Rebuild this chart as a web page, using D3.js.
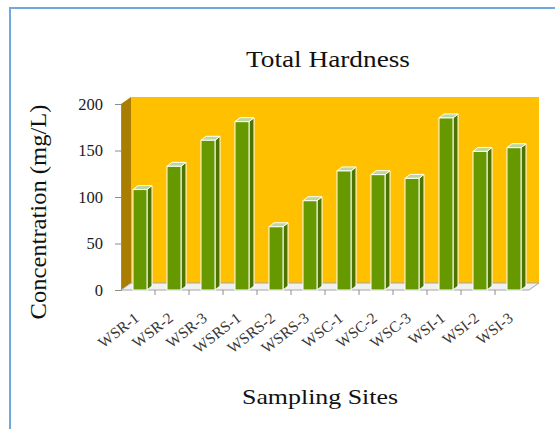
<!DOCTYPE html>
<html>
<head>
<meta charset="utf-8">
<script src="https://cdn.jsdelivr.net/npm/d3@7"></script>
<style>
  body { margin: 0; background: #fff; }
  text { font-family: "Liberation Serif", "DejaVu Serif", serif; }
</style>
</head>
<body>
<div id="chart"></div>
<script>
// data
const SITES = ["WSR-1", "WSR-2", "WSR-3", "WSRS-1", "WSRS-2", "WSRS-3",
               "WSC-1", "WSC-2", "WSC-3", "WSI-1", "WSI-2", "WSI-3"];
const HARDNESS = [108, 133, 161, 181, 68, 96, 128, 124, 120, 185, 149, 153];
const Y_TICKS = [0, 50, 100, 150, 200];

// frame constants
const FRAME_WIDTH = 555;
const FRAME_HEIGHT = 429;
const PLOT = {left: 121, right: 529, top: 104, bottom: 290};
const DEPTH = {dx: 10, dy: -7};   // 3d wall offset
const BAR = {w: 14, dx: 5, dy: -4}; // bar front width and side offset

const svg = d3.select("#chart")
              .append("svg")
              .attr("width", FRAME_WIDTH)
              .attr("height", FRAME_HEIGHT);

// outer border (only top and left sit inside the window)
svg.append("rect")
   .attr("x", 10).attr("y", 8)
   .attr("width", 700).attr("height", 600)
   .attr("fill", "none")
   .attr("stroke", "#6fa8dc")
   .attr("stroke-width", 2);

// scales
const xScale = d3.scaleBand()
    .domain(SITES)
    .range([PLOT.left, PLOT.right]);

const yScale = d3.scaleLinear()
    .domain([0, 200])
    .range([PLOT.bottom, PLOT.top]);

const y0 = yScale(0), yTop = yScale(200);

// back wall
svg.append("rect")
   .attr("x", PLOT.left + DEPTH.dx)
   .attr("y", yTop + DEPTH.dy)
   .attr("width", PLOT.right - PLOT.left)
   .attr("height", y0 - yTop)
   .attr("fill", "#ffc000");

// side wall
svg.append("polygon")
   .attr("points", [[PLOT.left, yTop], [PLOT.left + DEPTH.dx, yTop + DEPTH.dy],
                    [PLOT.left + DEPTH.dx, y0 + DEPTH.dy], [PLOT.left, y0]].join(" "))
   .attr("fill", "#a87d00");

// floor
svg.append("polygon")
   .attr("points", [[PLOT.left, y0], [PLOT.left + DEPTH.dx, y0 + DEPTH.dy],
                    [PLOT.right + DEPTH.dx, y0 + DEPTH.dy], [PLOT.right, y0]].join(" "))
   .attr("fill", "#f0f0f0")
   .attr("stroke", "#a6a6a6")
   .attr("stroke-width", 1);

// y axis
const yAxis = svg.append("g")
    .attr("transform", "translate(" + PLOT.left + ",0)")
    .call(d3.axisLeft(yScale).tickValues(Y_TICKS).tickSize(6).tickPadding(12));
yAxis.select(".domain").attr("stroke", "#8c8c8c");
yAxis.selectAll(".tick line").attr("stroke", "#8c8c8c");
yAxis.selectAll(".tick text")
     .attr("font-family", "Liberation Serif")
     .attr("font-size", 16.5)
     .attr("fill", "#1a1a1a");

// x axis ticks + rotated labels
const xAxis = svg.append("g")
    .attr("transform", "translate(0," + y0 + ")");
xAxis.selectAll("line")
     .data(SITES.slice(1))
     .enter()
     .append("line")
     .attr("x1", d => xScale(d)).attr("x2", d => xScale(d))
     .attr("y1", 0).attr("y2", 5)
     .attr("stroke", "#8c8c8c");
xAxis.selectAll("text")
     .data(SITES)
     .enter()
     .append("text")
     .attr("transform", d => "translate(" + (xScale(d) + xScale.bandwidth() / 2 + 2) + ",30) rotate(-38)")
     .attr("text-anchor", "end")
     .attr("font-size", 15.5)
     .attr("fill", "#3a3a3a")
     .text(d => d);

// bars
const bars = svg.selectAll(".bar")
    .data(SITES.map((s, i) => ({site: s, value: HARDNESS[i]})))
    .enter()
    .append("g")
    .attr("class", "bar");

const barX = d => xScale(d.site) + xScale.bandwidth() / 2 - BAR.w / 2 + 2;

// side face
bars.append("polygon")
    .attr("points", d => {
        const x = barX(d) + BAR.w, t = yScale(d.value);
        return [[x, t], [x + BAR.dx, t + BAR.dy], [x + BAR.dx, y0 + BAR.dy], [x, y0]].join(" ");
    })
    .attr("fill", "#4d7300")
    .attr("stroke", "#fff")
    .attr("stroke-width", 1);

// top face
bars.append("polygon")
    .attr("points", d => {
        const x = barX(d), t = yScale(d.value);
        return [[x, t], [x + BAR.dx, t + BAR.dy], [x + BAR.w + BAR.dx, t + BAR.dy], [x + BAR.w, t]].join(" ");
    })
    .attr("fill", "#bcd89a")
    .attr("stroke", "#fff")
    .attr("stroke-width", 1);

// front face
bars.append("rect")
    .attr("x", barX)
    .attr("y", d => yScale(d.value))
    .attr("width", BAR.w)
    .attr("height", d => y0 - yScale(d.value))
    .attr("fill", "#669900")
    .attr("stroke", "#fff")
    .attr("stroke-width", 1);

// titles
svg.append("text")
   .attr("x", 328).attr("y", 67)
   .attr("text-anchor", "middle")
   .attr("font-size", 23)
   .attr("textLength", 164)
   .attr("lengthAdjust", "spacingAndGlyphs")
   .attr("fill", "#111")
   .text("Total Hardness");

svg.append("text")
   .attr("x", 320).attr("y", 404)
   .attr("text-anchor", "middle")
   .attr("font-size", 21)
   .attr("textLength", 156)
   .attr("lengthAdjust", "spacingAndGlyphs")
   .attr("fill", "#111")
   .text("Sampling Sites");

svg.append("text")
   .attr("transform", "translate(46,212) rotate(-90)")
   .attr("text-anchor", "middle")
   .attr("font-size", 24)
   .attr("textLength", 215)
   .attr("lengthAdjust", "spacingAndGlyphs")
   .attr("fill", "#111")
   .text("Concentration (mg/L)");
</script>
</body>
</html>
